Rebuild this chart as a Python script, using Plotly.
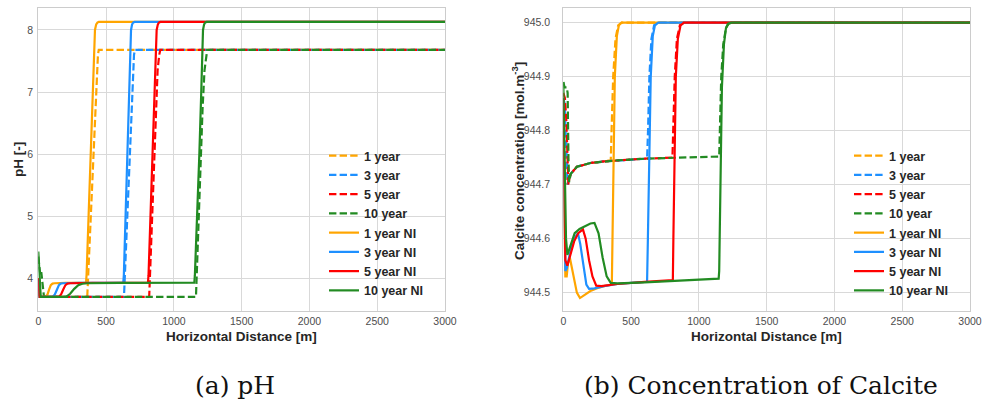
import plotly.graph_objects as go

W, H = 984, 403

# ---------------- data: pH ----------------
labels = ["1 year", "3 year", "5 year", "10 year", "1 year NI", "3 year NI", "5 year NI", "10 year NI"]
colors = ["#FFA500", "#1E90FF", "#FF0000", "#228B22"]

ph_x_1y = [0, 8, 361, 375, 390, 406, 420, 432, 440, 446, 3000]
ph_y_1y = [3.95, 3.70, 3.70, 4.40, 5.20, 6.00, 6.75, 7.35, 7.60, 7.68, 7.68]
ph_x_3y = [0, 8, 632, 645, 658, 671, 685, 697, 706, 713, 3000]
ph_y_3y = [3.98, 3.70, 3.70, 4.40, 5.20, 6.00, 6.75, 7.35, 7.60, 7.68, 7.68]
ph_x_5y = [0, 8, 818, 830, 842, 853, 866, 880, 892, 900, 3000]
ph_y_5y = [4.00, 3.70, 3.70, 4.40, 5.20, 6.00, 6.75, 7.35, 7.60, 7.68, 7.68]
ph_x_10y = [0, 8, 15, 22, 28, 35, 42, 1163, 1175, 1186, 1197, 1212, 1226, 1238, 1246, 3000]
ph_y_10y = [4.35, 4.10, 4.05, 4.10, 3.95, 3.85, 3.70, 3.70, 4.40, 5.20, 6.00, 6.75, 7.35, 7.60, 7.68, 7.68]

ph_x_1ni = [0, 10, 55, 68, 80, 92, 105, 120, 200, 352, 356, 370, 386, 402, 418, 427, 436, 446, 3000]
ph_y_1ni = [3.95, 3.70, 3.70, 3.74, 3.82, 3.89, 3.915, 3.92, 3.925, 3.93, 4.05, 4.95, 6.00, 7.00, 8.00, 8.09, 8.12, 8.13, 8.13]
ph_x_3ni = [0, 10, 105, 122, 138, 152, 165, 180, 300, 627, 631, 645, 659, 672, 684, 692, 700, 710, 3000]
ph_y_3ni = [3.98, 3.70, 3.70, 3.74, 3.82, 3.89, 3.915, 3.92, 3.925, 3.93, 4.05, 5.00, 6.00, 7.00, 8.00, 8.09, 8.12, 8.13, 8.13]
ph_x_5ni = [0, 10, 150, 168, 184, 200, 215, 235, 400, 809, 813, 828, 843, 858, 873, 882, 890, 900, 3000]
ph_y_5ni = [4.00, 3.70, 3.70, 3.74, 3.82, 3.89, 3.915, 3.92, 3.925, 3.93, 4.05, 5.00, 6.00, 7.00, 8.00, 8.09, 8.12, 8.13, 8.13]
ph_x_10ni = [0, 8, 18, 205, 235, 265, 295, 325, 360, 600, 1151, 1155, 1172, 1188, 1202, 1215, 1223, 1231, 1242, 3000]
ph_y_10ni = [4.43, 4.00, 3.70, 3.70, 3.75, 3.83, 3.89, 3.912, 3.92, 3.925, 3.93, 4.05, 5.00, 6.00, 7.00, 8.00, 8.09, 8.12, 8.13, 8.13]

# ---------------- data: Calcite ----------------
ca_x_1y = [0, 12, 20, 30, 45, 55, 100, 200, 300, 350, 356, 368, 385, 405, 430, 3000]
ca_y_1y = [944.84, 944.80, 944.72, 944.700, 944.712, 944.720, 944.733, 944.740, 944.743, 944.745, 944.80, 944.90, 944.97, 944.995, 945.0, 945.0]
ca_x_3y = [0, 10, 20, 32, 45, 55, 100, 200, 300, 400, 500, 618, 625, 635, 650, 670, 700, 3000]
ca_y_3y = [944.86, 944.85, 944.78, 944.700, 944.712, 944.720, 944.733, 944.740, 944.743, 944.745, 944.747, 944.748, 944.80, 944.90, 944.97, 944.995, 945.0, 945.0]
ca_x_5y = [0, 12, 22, 30, 38, 45, 55, 100, 200, 300, 400, 600, 805, 812, 822, 838, 860, 890, 3000]
ca_y_5y = [944.87, 944.86, 944.82, 944.74, 944.700, 944.712, 944.720, 944.733, 944.740, 944.743, 944.745, 944.748, 944.750, 944.80, 944.90, 944.97, 944.995, 945.0, 945.0]
ca_x_10y = [0, 10, 25, 32, 38, 43, 55, 100, 200, 300, 400, 600, 800, 1000, 1150, 1155, 1165, 1180, 1200, 1220, 1245, 3000]
ca_y_10y = [944.89, 944.88, 944.88, 944.87, 944.75, 944.705, 944.720, 944.733, 944.740, 944.743, 944.745, 944.748, 944.750, 944.751, 944.752, 944.80, 944.90, 944.96, 944.99, 944.998, 945.0, 945.0]

ca_x_1ni = [0, 8, 15, 25, 35, 48, 60, 80, 100, 123, 150, 200, 250, 300, 358, 362, 368, 380, 395, 410, 430, 3000]
ca_y_1ni = [944.80, 944.60, 944.53, 944.53, 944.555, 944.565, 944.55, 944.52, 944.50, 944.49, 944.495, 944.503, 944.508, 944.512, 944.515, 944.60, 944.75, 944.90, 944.975, 944.995, 945.0, 945.0]
ca_x_3ni = [0, 8, 15, 25, 40, 60, 80, 108, 125, 150, 170, 190, 230, 300, 400, 500, 618, 624, 632, 645, 660, 676, 700, 3000]
ca_y_3ni = [944.86, 944.65, 944.54, 944.545, 944.565, 944.585, 944.60, 944.61, 944.59, 944.545, 944.515, 944.507, 944.508, 944.512, 944.516, 944.518, 944.520, 944.60, 944.75, 944.90, 944.975, 944.995, 945.0, 945.0]
ca_x_5ni = [0, 8, 15, 30, 50, 80, 110, 145, 165, 190, 215, 243, 280, 400, 600, 808, 812, 819, 830, 845, 865, 890, 3000]
ca_y_5ni = [944.86, 944.70, 944.56, 944.55, 944.57, 944.595, 944.61, 944.617, 944.60, 944.56, 944.53, 944.513, 944.512, 944.516, 944.520, 944.523, 944.60, 944.75, 944.90, 944.97, 944.995, 945.0, 945.0]
ca_x_10ni = [0, 10, 20, 30, 50, 84, 120, 157, 200, 230, 260, 290, 320, 350, 400, 600, 800, 1000, 1146, 1150, 1158, 1170, 1185, 1200, 1215, 1240, 3000]
ca_y_10ni = [944.89, 944.75, 944.60, 944.57, 944.585, 944.61, 944.618, 944.622, 944.628, 944.629, 944.61, 944.565, 944.53, 944.518, 944.517, 944.519, 944.522, 944.524, 944.526, 944.54, 944.70, 944.88, 944.96, 944.99, 944.998, 945.0, 945.0]

x_ticks = [0, 500, 1000, 1500, 2000, 2500, 3000]
ph_ticks = [4, 5, 6, 7, 8]
ca_ticks = [944.5, 944.6, 944.7, 944.8, 944.9, 945.0]

ph_series = [(ph_x_1y, ph_y_1y), (ph_x_3y, ph_y_3y), (ph_x_5y, ph_y_5y), (ph_x_10y, ph_y_10y),
             (ph_x_1ni, ph_y_1ni), (ph_x_3ni, ph_y_3ni), (ph_x_5ni, ph_y_5ni), (ph_x_10ni, ph_y_10ni)]
ca_series = [(ca_x_1y, ca_y_1y), (ca_x_3y, ca_y_3y), (ca_x_5y, ca_y_5y), (ca_x_10y, ca_y_10y),
             (ca_x_1ni, ca_y_1ni), (ca_x_3ni, ca_y_3ni), (ca_x_5ni, ca_y_5ni), (ca_x_10ni, ca_y_10ni)]

DASH = "7.4px,3.2px"
LW = 2.2

fig = go.Figure()
for i, (xs, ys) in enumerate(ph_series):
    fig.add_trace(go.Scatter(
        x=xs, y=ys, mode="lines", name=labels[i],
        line=dict(color=colors[i % 4], width=LW, dash=DASH if i < 4 else "solid"),
        xaxis="x", yaxis="y", legend="legend", legendgroup="a%d" % i))
for i, (xs, ys) in enumerate(ca_series):
    fig.add_trace(go.Scatter(
        x=xs, y=ys, mode="lines", name=labels[i],
        line=dict(color=colors[i % 4], width=LW, dash=DASH if i < 4 else "solid"),
        xaxis="x2", yaxis="y2", legend="legend2", legendgroup="b%d" % i))


def px(x):
    return x / W


def py(y):
    return 1 - y / H


FONT = "Liberation Sans"
GRID = "#d9d9d9"
EDGE = "#cccccc"
TICKC = "#4d4d4d"
TITLEC = "#262626"

axis_common = dict(showgrid=True, gridcolor=GRID, gridwidth=1, zeroline=False, automargin=False,
                   showline=True, linecolor=EDGE, linewidth=1.2, mirror=True,
                   ticks="", tickfont=dict(family=FONT, size=10.5, color=TICKC))

fig.update_layout(
    width=W, height=H,
    margin=dict(l=0, r=0, t=0, b=0, pad=0, autoexpand=False),
    paper_bgcolor="white", plot_bgcolor="white",
    font=dict(family=FONT, color=TITLEC),
    xaxis=dict(domain=[px(38.3), px(445)], range=[0, 3000], tickvals=x_ticks, anchor="y", **axis_common),
    yaxis=dict(domain=[py(311), py(8)], range=[3.473, 8.354], tickvals=ph_ticks, anchor="x",
               ticklabelstandoff=2, **axis_common),
    xaxis2=dict(domain=[px(563.3), px(970)], range=[0, 3000], tickvals=x_ticks, anchor="y2", **axis_common),
    yaxis2=dict(domain=[py(311), py(8)], range=[944.466, 945.027], tickvals=ca_ticks, tickformat=".1f",
                anchor="x2", ticklabelstandoff=10, **axis_common),
    legend=dict(x=px(324), y=py(141), xanchor="left", yanchor="top", bgcolor="rgba(0,0,0,0)",
                font=dict(family=FONT, size=12.5, color=TITLEC, weight="bold"),
                tracegroupgap=0, borderwidth=0),
    legend2=dict(x=px(849), y=py(141), xanchor="left", yanchor="top", bgcolor="rgba(0,0,0,0)",
                 font=dict(family=FONT, size=12.5, color=TITLEC, weight="bold"),
                 tracegroupgap=0, borderwidth=0),
    showlegend=True,
)

ann = [
    dict(text="<b>Horizontal Distance [m]</b>", x=px(241.6), y=py(336.5), font=dict(size=13.5, color=TITLEC, family=FONT)),
    dict(text="<b>Horizontal Distance [m]</b>", x=px(766.6), y=py(336.5), font=dict(size=13.5, color=TITLEC, family=FONT)),
    dict(text="<b>pH [-]</b>", x=px(18), y=py(160), textangle=-90, font=dict(size=13.5, color=TITLEC, family=FONT)),
    dict(text="<b>Calcite concentration [mol.m<sup>-3</sup>]</b>", x=px(518), y=py(161), textangle=-90,
         font=dict(size=13.5, color=TITLEC, family=FONT)),
    dict(text="(a) pH", x=px(235), y=py(385), font=dict(size=25, color="#111111", family="DejaVu Serif")),
    dict(text="(b) Concentration of Calcite", x=px(761), y=py(385), font=dict(size=25, color="#111111", family="DejaVu Serif")),
]
for a in ann:
    a.update(xref="paper", yref="paper", showarrow=False, xanchor="center", yanchor="middle")
fig.update_layout(annotations=ann)

fig.write_html("out.html", config={"displayModeBar": False},
               post_script="document.body.style.margin='0';document.body.style.overflow='hidden';")
